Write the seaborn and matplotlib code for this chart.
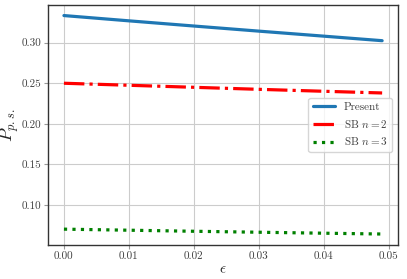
import matplotlib

matplotlib.use('Agg')

import matplotlib.pyplot as plt
import pandas as pd
import seaborn as sns

# values
epsilon = [0.0, 0.01, 0.02, 0.03, 0.04, 0.049]
present = [0.3335, 0.3270, 0.3206, 0.3143, 0.3081, 0.3025]
sb_n2 = [0.2500, 0.2475, 0.2450, 0.2425, 0.2401, 0.2380]
sb_n3 = [0.0700, 0.0687, 0.0674, 0.0662, 0.0650, 0.0640]
labels = ['Present', 'SB $n=2$', 'SB $n=3$']

sns.set_style('whitegrid', {'axes.edgecolor': '.2', 'grid.color': '.8',
                            'xtick.bottom': True, 'ytick.left': True})
plt.rcParams['font.family'] = ['cmr10', 'DejaVu Serif']
plt.rcParams['mathtext.fontset'] = 'cm'
plt.rcParams['axes.formatter.use_mathtext'] = True
plt.rcParams['axes.unicode_minus'] = False

df = pd.DataFrame({'eps': epsilon, labels[0]: present, labels[1]: sb_n2, labels[2]: sb_n3})
long_df = df.melt(id_vars='eps', var_name='series', value_name='p')

fig, ax = plt.subplots(figsize=(4.07, 2.79), dpi=100)
styles = {labels[0]: ('#1f77b4', '-'), labels[1]: ('red', '-.'), labels[2]: ('green', ':')}
for name in labels:
    color, ls = styles[name]
    sub = long_df[long_df['series'] == name]
    sns.lineplot(data=sub, x='eps', y='p', ax=ax, color=color, linestyle=ls,
                 linewidth=2.3, label=name)

ax.set_xticks([0.0, 0.01, 0.02, 0.03, 0.04, 0.05])
ax.set_yticks([0.10, 0.15, 0.20, 0.25, 0.30])
ax.set_xticklabels(['0.00', '0.01', '0.02', '0.03', '0.04', '0.05'])
ax.set_yticklabels(['0.10', '0.15', '0.20', '0.25', '0.30'])
ax.tick_params(labelsize=8, length=3, pad=2, color='.6', labelcolor='.25')
ax.set_xlabel(r'$\epsilon$', fontsize=11, color='.15', labelpad=1)
ax.set_ylabel(r'$P_{p.s.}$', fontsize=13, color='.15', labelpad=0)
ax.set_xlim(-0.00245, 0.05145)
ax.set_ylim(0.0505, 0.3465)
for sp in ax.spines.values():
    sp.set_linewidth(1.0)
leg = ax.legend(loc='center right', fontsize=8, frameon=True)
for t in leg.get_texts():
    t.set_color('.25')

fig.subplots_adjust(left=0.118, right=0.978, top=0.982, bottom=0.122)
fig.savefig('out.png', dpi=100)
